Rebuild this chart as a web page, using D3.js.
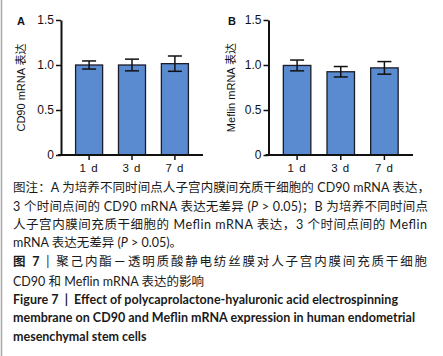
<!DOCTYPE html>
<html><head><meta charset="utf-8">
<script src="https://cdn.jsdelivr.net/npm/d3@7"></script>
<style>
html,body{margin:0;padding:0;background:#fff;}
svg{display:block;}
</style></head>
<body>
<svg id="c" width="443" height="356"></svg>
<script>
const categories = ["1 d", "3 d", "7 d"];
const cd90Values = [1.00, 1.00, 1.015];
const cd90Errors = [0.045, 0.065, 0.085];
const meflinValues = [0.995, 0.925, 0.968];
const meflinErrors = [0.06, 0.058, 0.07];
const yTicks = [0, 0.5, 1.0, 1.5];
const yTickLabels = ["0", "0.5", "1.0", "1.5"];
const panelLabels = ["A", "B"];
const yTitles = ["CD90 mRNA 表达", "Meflin mRNA 表达"];
const captionLines = [
  "图注：A 为培养不同时间点人子宫内膜间充质干细胞的 CD90 mRNA 表达，",
  "3 个时间点间的 CD90 mRNA 表达无差异 (<i>P</i> > 0.05)；B 为培养不同时间点",
  "人子宫内膜间充质干细胞的 Meflin mRNA 表达，3 个时间点间的 Meflin",
  "mRNA 表达无差异 (<i>P</i> > 0.05)。"
];
const titleCn = ["图 7", " | 聚己内酯－透明质酸静电纺丝膜对人子宫内膜间充质干细胞", "CD90 和 Meflin mRNA 表达的影响"];
const titleEn = ["Figure 7  |  Effect of polycaprolactone-hyaluronic acid electrospinning",
  "membrane on CD90 and Meflin mRNA expression in human endometrial",
  "mesenchymal stem cells"];

const svg = d3.select("#c");
svg.append("rect").attr("x",0).attr("y",0).attr("width",443).attr("height",356).attr("fill","#fff");
svg.append("line").attr("x1",1.5).attr("x2",1.5).attr("y1",0).attr("y2",356).attr("stroke","#a8a8a8").attr("stroke-width",1.5);

const panels = [
  {x0:61, x1:203, vals:cd90Values, errs:cd90Errors, label:panelLabels[0], lx:17, title:yTitles[0], tx:25},
  {x0:268.5, x1:413, vals:meflinValues, errs:meflinErrors, label:panelLabels[1], lx:228, title:yTitles[1], tx:235}
];
const y = d3.scaleLinear().domain([0,1.5]).range([155,20]);
const axFont = "'Liberation Sans', Arial, sans-serif";

panels.forEach(p => {
  const g = svg.append("g");
  const x = d3.scaleBand().domain(categories).range([p.x0, p.x1]).paddingInner(0.37).paddingOuter(0.34);
  const data = categories.map((c,i)=>({c, v:p.vals[i], e:p.errs[i]}));
  g.selectAll("rect.bar").data(data).join("rect")
    .attr("x", d=>x(d.c)).attr("width", x.bandwidth())
    .attr("y", d=>y(d.v)).attr("height", d=>y(0)-y(d.v))
    .attr("fill","#5a8bd0").attr("stroke","#1c1c28").attr("stroke-width",1.3);
  const eg = g.selectAll("g.err").data(data).join("g");
  const cx = d => x(d.c) + x.bandwidth()/2;
  eg.append("line").attr("x1",cx).attr("x2",cx).attr("y1",d=>y(d.v+d.e)).attr("y2",d=>y(d.v-d.e)).attr("stroke","#111").attr("stroke-width",1.5);
  eg.append("line").attr("x1",d=>cx(d)-7).attr("x2",d=>cx(d)+7).attr("y1",d=>y(d.v+d.e)).attr("y2",d=>y(d.v+d.e)).attr("stroke","#111").attr("stroke-width",1.5);
  eg.append("line").attr("x1",d=>cx(d)-7).attr("x2",d=>cx(d)+7).attr("y1",d=>y(d.v-d.e)).attr("y2",d=>y(d.v-d.e)).attr("stroke","#111").attr("stroke-width",1.5);

  const ya = g.append("g").attr("transform",`translate(${p.x0},0)`)
    .call(d3.axisLeft(y).tickValues(yTicks).tickFormat((d,i)=>yTickLabels[i]).tickSize(5).tickPadding(2).tickSizeOuter(0));
  ya.select(".domain").attr("stroke","#111").attr("stroke-width",2);
  ya.selectAll(".tick line").attr("stroke","#111").attr("stroke-width",1.5);
  ya.selectAll(".tick text").attr("font-family",axFont).attr("font-size",12).attr("fill","#111");

  const xa = g.append("g").attr("transform",`translate(0,${y(0)})`)
    .call(d3.axisBottom(x).tickSize(5).tickPadding(4).tickSizeOuter(0));
  xa.select(".domain").attr("stroke","#111").attr("stroke-width",2).attr("d",`M${p.x0-3},0H${p.x1}`);
  xa.selectAll(".tick line").attr("stroke","#111").attr("stroke-width",1.5);
  xa.selectAll(".tick text").attr("font-family",axFont).attr("font-size",11.5).attr("fill","#111").attr("letter-spacing","1");

  g.append("text").attr("x",p.lx).attr("y",25).attr("font-family",axFont).attr("font-weight","bold").attr("font-size",11).attr("fill","#111").text(p.label);
  g.append("text").attr("transform",`translate(${p.tx},${y(0.75)}) rotate(-90)`).attr("text-anchor","middle")
    .attr("font-family","'Liberation Sans', Arial, 'Noto Sans CJK SC', sans-serif").attr("font-size",11).attr("fill","#111").text(p.title);
});

const capFont = "Lato, 'Noto Sans CJK SC', sans-serif";
const capY = [192, 211, 229, 247];
const capLen = [417, 415, 414, null];
captionLines.forEach((t,i)=>{
  const tx = svg.append("text").attr("x",13).attr("y",capY[i]).attr("font-family",capFont).attr("font-size",12.5).attr("fill","#1a1a1a");
  if (capLen[i]) tx.attr("textLength",capLen[i]).attr("lengthAdjust","spacing");
  const parts = t.split(/(<i>.*?<\/i>)/);
  parts.forEach(s=>{
    if (!s) return;
    if (s.startsWith("<i>")) tx.append("tspan").attr("font-style","italic").text(s.replace(/<\/?i>/g,""));
    else tx.append("tspan").text(s);
  });
});
const t1 = svg.append("text").attr("x",13).attr("y",266).attr("font-family",capFont).attr("font-size",12.5).attr("fill","#1a1a1a").attr("textLength",414).attr("lengthAdjust","spacing");
t1.append("tspan").attr("font-weight","bold").text(titleCn[0]);
t1.append("tspan").text(titleCn[1]);
svg.append("text").attr("x",13).attr("y",286).attr("font-family",capFont).attr("font-size",12.5).attr("fill","#1a1a1a").text(titleCn[2]);
const enY = [304, 322, 341];
const enLen = [385, 402, null];
titleEn.forEach((t,i)=>{
  const tx = svg.append("text").attr("x",13).attr("y",enY[i]).attr("font-family",capFont).attr("font-weight","bold").attr("font-size",12.5).attr("fill","#1a1a1a").attr("xml:space","preserve").text(t);
  if (enLen[i]) tx.attr("textLength",enLen[i]).attr("lengthAdjust","spacing");
});
</script>
</body></html>
